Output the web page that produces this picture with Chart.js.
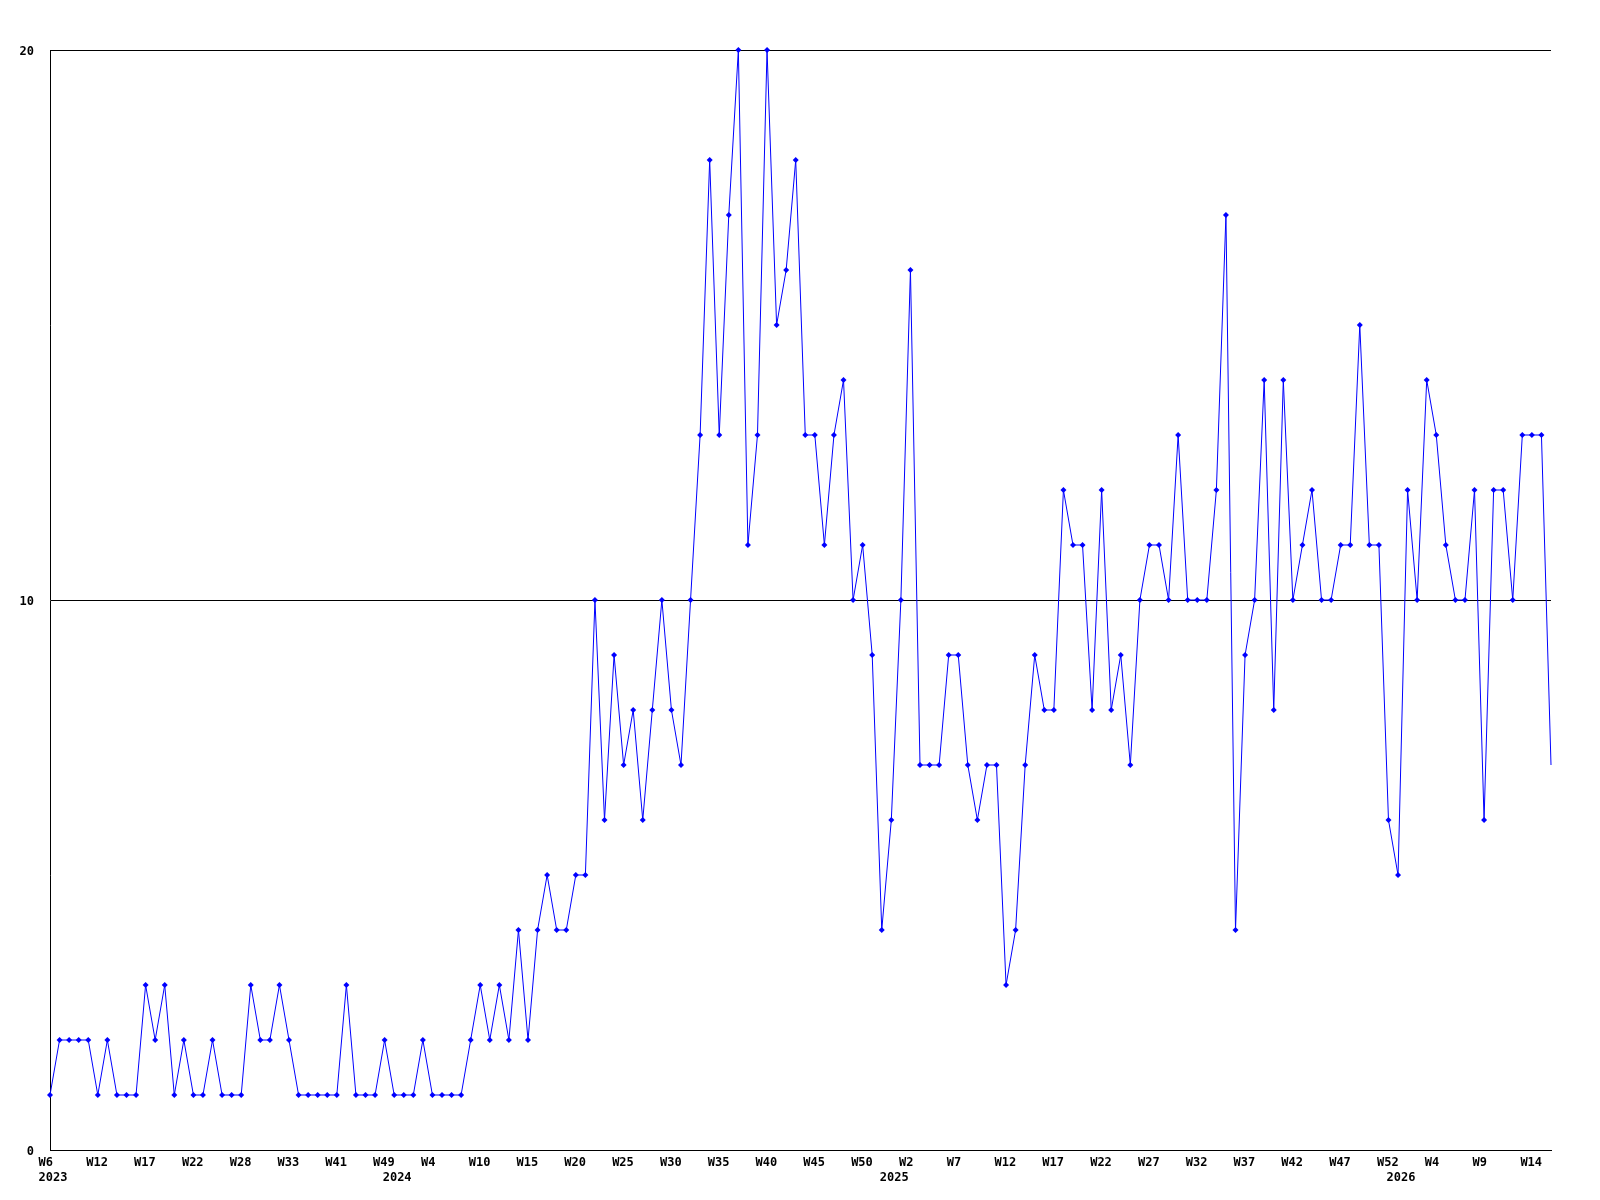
<!DOCTYPE html>
<html>
<head>
<meta charset="utf-8">
<script src="https://cdn.jsdelivr.net/npm/chart.js@4.4.1/dist/chart.umd.min.js"></script>
<style>
html,body{margin:0;padding:0;background:#ffffff;}
#wrap{width:1600px;height:1200px;position:relative;}
canvas{display:block;}
</style>
</head>
<body>
<div id="wrap"><canvas id="c" width="1600" height="1200"></canvas></div>
<script>
// Categories: year-week of each data point
const categories = [
'2023-W6','2023-W7','2023-W8','2023-W10','2023-W11','2023-W12','2023-W13','2023-W14','2023-W15','2023-W16',
'2023-W17','2023-W18','2023-W19','2023-W20','2023-W21','2023-W22','2023-W23','2023-W24','2023-W25','2023-W27',
'2023-W28','2023-W29','2023-W30','2023-W31','2023-W32','2023-W33','2023-W35','2023-W37','2023-W38','2023-W39',
'2023-W41','2023-W43','2023-W45','2023-W46','2023-W47','2023-W49',
'2024-W0','2024-W1','2024-W2','2024-W3','2024-W4','2024-W5','2024-W7','2024-W8','2024-W9','2024-W10',
'2024-W11','2024-W12','2024-W13','2024-W14','2024-W15','2024-W16','2024-W17','2024-W18','2024-W19','2024-W20',
'2024-W21','2024-W22','2024-W23','2024-W24','2024-W25','2024-W26','2024-W27','2024-W28','2024-W29','2024-W30',
'2024-W31','2024-W32','2024-W33','2024-W34','2024-W35','2024-W36','2024-W37','2024-W38','2024-W39','2024-W40',
'2024-W41','2024-W42','2024-W43','2024-W44','2024-W45','2024-W46','2024-W47','2024-W48','2024-W49','2024-W50',
'2024-W51','2024-W52',
'2025-W0','2025-W1','2025-W2','2025-W3','2025-W4','2025-W5','2025-W6','2025-W7','2025-W8','2025-W9',
'2025-W10','2025-W11','2025-W12','2025-W13','2025-W14','2025-W15','2025-W16','2025-W17','2025-W18','2025-W19',
'2025-W20','2025-W21','2025-W22','2025-W23','2025-W24','2025-W25','2025-W26','2025-W27','2025-W28','2025-W29',
'2025-W30','2025-W31','2025-W32','2025-W33','2025-W34','2025-W35','2025-W36','2025-W37','2025-W38','2025-W39',
'2025-W40','2025-W41','2025-W42','2025-W43','2025-W44','2025-W45','2025-W46','2025-W47','2025-W48','2025-W49',
'2025-W50','2025-W51','2025-W52',
'2026-W0','2026-W1','2026-W2','2026-W3','2026-W4','2026-W5','2026-W6','2026-W7','2026-W8','2026-W9',
'2026-W10','2026-W11','2026-W12','2026-W13','2026-W14','2026-W15','2026-W16'
];

// Series values
const values = [
1,2,2,2,2,1,2,1,1,1,
3,2,3,1,2,1,1,2,1,1,
1,3,2,2,3,2,1,1,1,1,
1,3,1,1,1,2,1,1,1,2,
1,1,1,1,2,3,2,3,2,4,
2,4,5,4,4,5,5,10,6,9,
7,8,6,8,10,8,7,10,13,18,
13,17,20,11,13,20,15,16,18,13,
13,11,13,14,10,11,9,4,6,10,
16,7,7,7,9,9,7,6,7,7,
3,4,7,9,8,8,12,11,11,8,
12,8,9,7,10,11,11,10,13,10,
10,10,12,17,4,9,10,14,8,14,
10,11,12,10,10,11,11,15,11,11,
6,5,12,10,14,13,11,10,10,12,
6,12,12,10,13,13,13,7
];

// Tick labels
const yTickValues = [0, 10, 20];
const xLabelEvery = 5;

const FONT = {family: '"DejaVu Sans Mono", "Liberation Mono", monospace', size: 12, weight: 'bold', lineHeight: 15/12};

function xTickLabel(index) {
  const parts = categories[index].split('-');
  const yr = parts[0], wk = parts[1];
  const prevYr = index > 0 ? categories[index - 1].split('-')[0] : null;
  const showWeek = index % xLabelEvery === 0;
  const showYear = yr !== prevYr;
  if (!showWeek && !showYear) return null;
  if (!showYear) return wk;
  return [showWeek ? wk : '', yr];
}

new Chart(document.getElementById('c'), {
  type: 'line',
  data: {
    labels: categories,
    datasets: [{
      data: values,
      borderColor: '#0000ff',
      borderWidth: 1,
      tension: 0,
      fill: false,
      pointStyle: 'rectRot',
      pointRadius: ctx => (ctx.dataIndex === values.length - 1 ? 0 : 3),
      pointHoverRadius: 0,
      pointBackgroundColor: '#0000ff',
      pointBorderColor: '#0000ff',
      pointBorderWidth: 0,
      clip: false
    }]
  },
  options: {
    responsive: false,
    maintainAspectRatio: false,
    devicePixelRatio: 1,
    animation: false,
    events: [],
    layout: {padding: {left: 0, right: 49, top: 50, bottom: 0}},
    plugins: {legend: {display: false}, tooltip: {enabled: false}, title: {display: false}},
    scales: {
      x: {
        type: 'category',
        offset: false,
        grid: {display: false, drawTicks: false},
        border: {display: true, color: '#000000', width: 1},
        ticks: {
          autoSkip: false,
          maxRotation: 0,
          minRotation: 0,
          align: 'start',
          labelOffset: -11.5,
          padding: 5.5,
          color: '#000000',
          font: FONT,
          callback: (v, i) => xTickLabel(i)
        },
        afterFit: s => { s.height = 50; }
      },
      y: {
        min: 0,
        max: 20,
        grid: {display: true, color: '#000000', lineWidth: 1, drawTicks: false},
        border: {display: true, color: '#000000', width: 1},
        afterBuildTicks: s => { s.ticks = yTickValues.map(v => ({value: v})); },
        ticks: {
          padding: 16,
          labelOffset: 2,
          color: '#000000',
          font: FONT,
          callback: v => String(v)
        },
        afterFit: s => { s.width = 50; }
      }
    }
  }
});
</script>
</body>
</html>
